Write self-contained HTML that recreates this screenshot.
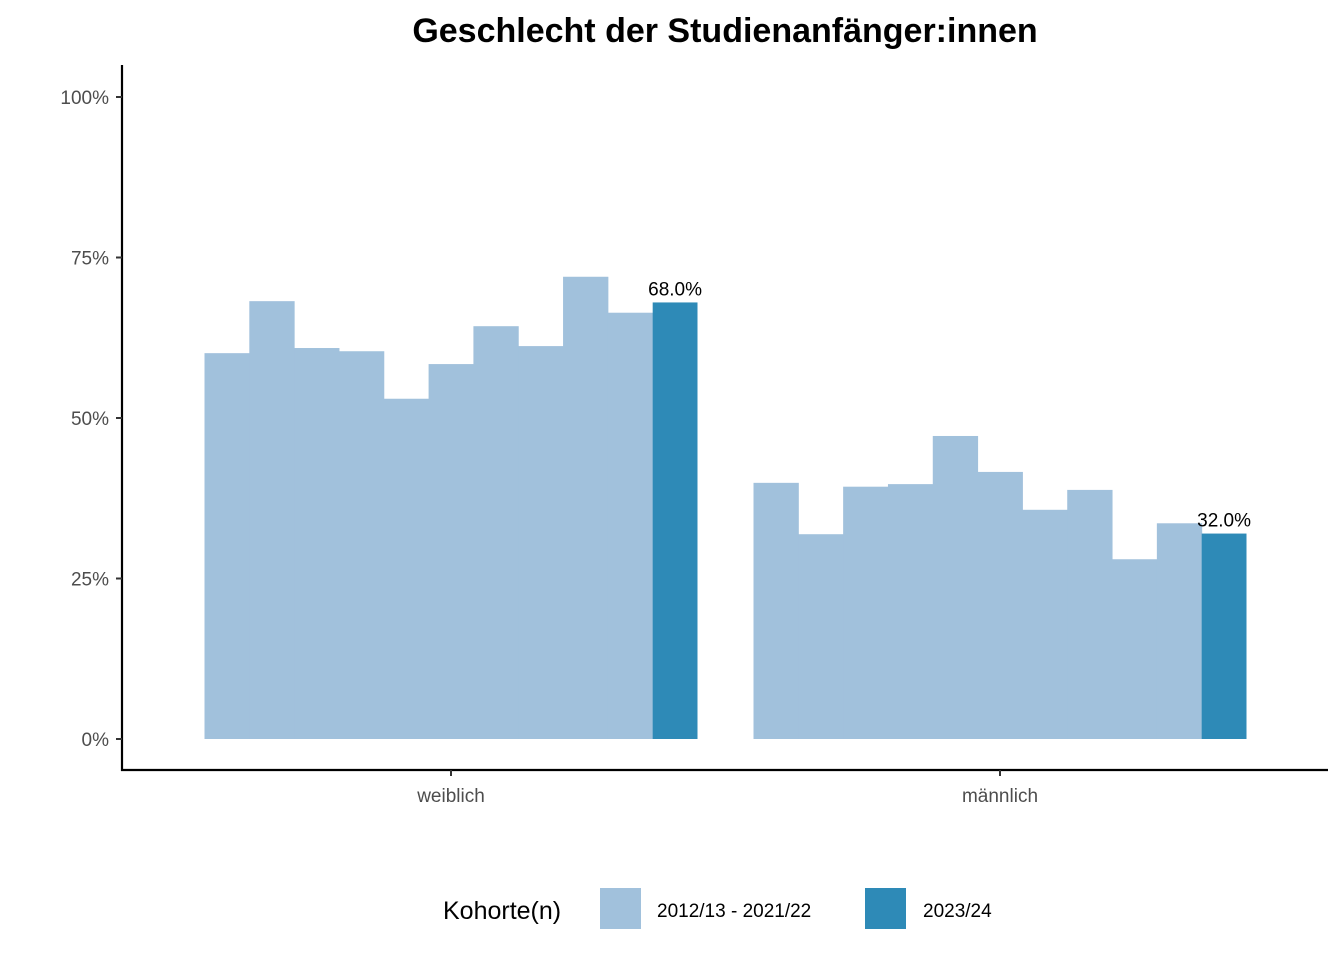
<!DOCTYPE html>
<html><head><meta charset="utf-8"><style>
body{margin:0;background:#fff}
svg text{font-family:"Liberation Sans",Arial,sans-serif}
</style></head><body>
<svg id="c" width="1344" height="960" xmlns="http://www.w3.org/2000/svg">
<text x="725" y="42" text-anchor="middle" font-size="34" font-weight="bold">Geschlecht der Studienanfänger:innen</text>
<g id="bars"></g>
<g id="axes"></g>
<g>
<text x="443" y="919" font-size="25">Kohorte(n)</text>
<rect x="600" y="888" width="41" height="41" fill="#a1c1dc"/>
<text x="657" y="917" font-size="19">2012/13 - 2021/22</text>
<rect x="865" y="888" width="41" height="41" fill="#2e8ab7"/>
<text x="923" y="917" font-size="19">2023/24</text>
</g>
</svg>
<script>
const categories=["weiblich","männlich"];
const weiblichValues=[60.1,68.2,60.9,60.4,53.0,58.4,64.3,61.2,72.0,66.4,68.0];
const maennlichValues=[39.9,31.9,39.3,39.7,47.2,41.6,35.7,38.8,28.0,33.6,32.0];
const yTicks=[0,25,50,75,100];
const yTickLabels=["0%","25%","50%","75%","100%"];
const NS="http://www.w3.org/2000/svg";
const y0=739,y100=97;
function yScale(v){return y0-(y0-y100)*v/100;}
const plotL=122,plotR=1328,centers=[451,1000],groupW=493;
function xCenter(i){return centers[i];}
function mk(tag,attrs,parent){const e=document.createElementNS(NS,tag);for(const k in attrs)e.setAttribute(k,attrs[k]);parent.appendChild(e);return e;}
const bars=document.getElementById('bars');
[weiblichValues,maennlichValues].forEach((vals,gi)=>{
 const n=vals.length,w=groupW/n,start=xCenter(gi)-groupW/2;
 vals.forEach((v,i)=>{
  const last=i===n-1;
  const r=mk('rect',{x:start+i*w,y:yScale(v),width:w+(last?0:0.5),height:y0-yScale(v),fill:last?'#2e8ab7':'#a1c1dc'},bars);
  
  
  if(last){
   const t=mk('text',{x:start+i*w+w/2,y:yScale(v)-7,'text-anchor':'middle','font-size':19},bars);
   t.textContent=v.toFixed(1)+'%';
   
   
  }
 });
});
const ax=document.getElementById('axes');
const yl=mk('line',{x1:plotL,y1:65,x2:plotL,y2:771,stroke:'#000','stroke-width':2.2},ax);

const xl=mk('line',{x1:plotL-1,y1:770,x2:plotR,y2:770,stroke:'#000','stroke-width':2.2},ax);

yTicks.forEach((t,i)=>{
 const y=yScale(t);
 const tk=mk('line',{x1:116,y1:y,x2:plotL,y2:y,stroke:'#333','stroke-width':2},ax);
 
 const tx=mk('text',{x:109,y:y+7,'text-anchor':'end','font-size':19,fill:'#4d4d4d'},ax);
 tx.textContent=yTickLabels[i];
 
});
categories.forEach((c,i)=>{
 const x=xCenter(i);
 const tk=mk('line',{x1:x,y1:770,x2:x,y2:776,stroke:'#333','stroke-width':2},ax);
 
 const tx=mk('text',{x:x,y:802,'text-anchor':'middle','font-size':19,fill:'#4d4d4d'},ax);
 tx.textContent=c;
 
});
</script>
</body></html>
